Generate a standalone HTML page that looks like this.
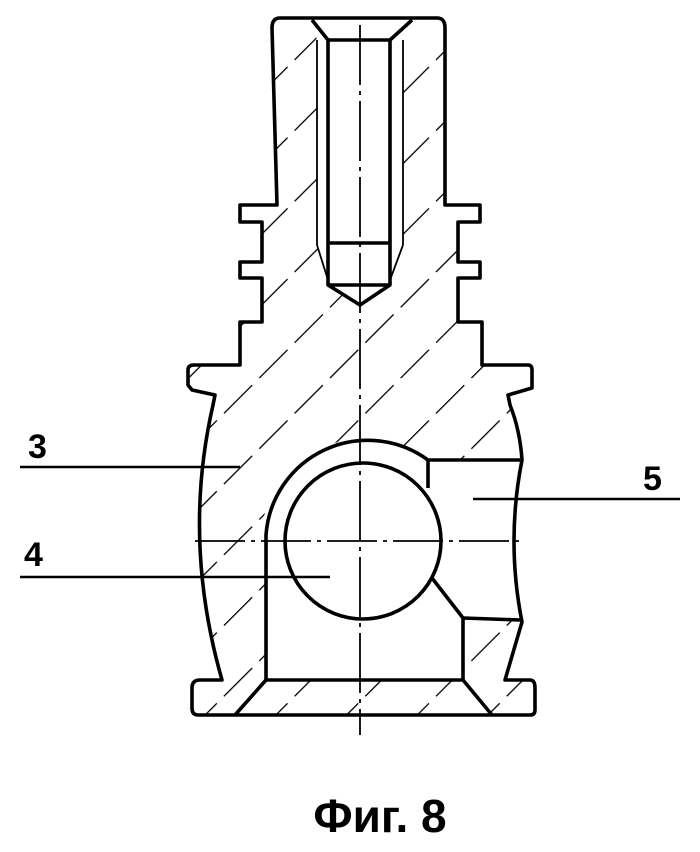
<!DOCTYPE html>
<html><head><meta charset="utf-8"><style>
html,body{margin:0;padding:0;background:#fff;}
svg{display:block;}
</style></head><body>
<svg width="700" height="852" viewBox="0 0 700 852" xmlns="http://www.w3.org/2000/svg">
<defs>
<pattern id="h" width="50" height="50" patternUnits="userSpaceOnUse" patternTransform="rotate(45)">
<line x1="0" y1="0" x2="0" y2="50" stroke="#000" stroke-width="2.6" stroke-dasharray="34 10"/>
</pattern>
<clipPath id="body"><path d="M280,18 L437,18 Q445,18 445,28 L445,205 L480,205 L480,222 L458,222 L458,262 L480,262 L480,278 L458,278 L458,322 L482,322 L482,365 L528,365 Q532,365 532,370 L532,388 L508,395 L510,405 Q520,430 522,460 Q506,541 522,622 L505,680 L530,680 Q535,680 535,688 L535,710 Q535,715 530,715 L198,715 Q192,715 192,708 L192,688 Q192,680 200,680 L222,680 Q182,540 213,405 L215,395 L192,390 L188,385 L188,370 Q188,365 194,365 L240,365 L240,322 L262,322 L262,278 L240,278 L240,262 L262,262 L262,222 L240,222 L240,205 L277,205 L272,28 Q272,18 280,18 Z"/></clipPath>
</defs>
<g clip-path="url(#body)"><rect x="0" y="0" width="700" height="852" fill="url(#h)"/></g>
<g fill="#fff" stroke="none">
<path d="M312,18 L412,18 L403,40 L403,245 L390,285 L360,305 L328,285 L317,245 L317,40 Z"/>
<circle cx="363" cy="541" r="102"/>
<path d="M266,541 L266,680 L463,680 L463,618 L520,620 Q506,541 520,460 L428,460 L428,541 Z"/>
</g>
<g fill="none" stroke="#000" stroke-width="3.6" stroke-linejoin="round">
<path d="M280,18 L437,18 Q445,18 445,28 L445,205 L480,205 L480,222 L458,222 L458,262 L480,262 L480,278 L458,278 L458,322 L482,322 L482,365 L528,365 Q532,365 532,370 L532,388 L508,395 L510,405 Q520,430 522,460 Q506,541 522,622 L505,680 L530,680 Q535,680 535,688 L535,710 Q535,715 530,715 L198,715 Q192,715 192,708 L192,688 Q192,680 200,680 L222,680 Q182,540 213,405 L215,395 L192,390 L188,385 L188,370 Q188,365 194,365 L240,365 L240,322 L262,322 L262,278 L240,278 L240,262 L262,262 L262,222 L240,222 L240,205 L277,205 L272,28 Q272,18 280,18 Z"/>
<path d="M312,20 L328,40 L328,285 L360,305 L390,285 L390,40 L412,20"/>
<line x1="328" y1="40" x2="390" y2="40"/>
<line x1="328" y1="285" x2="390" y2="285"/>
<line x1="328" y1="243" x2="390" y2="243"/>
<path d="M266,680 L266,535 A102,102 0 0 1 428,460 L520,460"/>
<circle cx="363" cy="541" r="78"/>
<path d="M266,680 L463,680 L463,618 L520,620"/>
<line x1="432" y1="578" x2="463" y2="618"/>
<line x1="428" y1="460" x2="428" y2="488"/>
<line x1="266" y1="680" x2="235" y2="715"/>
<line x1="463" y1="680" x2="492" y2="715"/>
</g>
<g fill="none" stroke="#000" stroke-width="1.8">
<line x1="317" y1="40" x2="317" y2="245"/>
<line x1="403" y1="40" x2="403" y2="245"/>
<line x1="317" y1="245" x2="328" y2="280"/>
<line x1="403" y1="245" x2="390" y2="280"/>
<line x1="360" y1="25" x2="360" y2="735" stroke-dasharray="60 6 4 6"/>
<line x1="195" y1="541" x2="520" y2="541" stroke-dasharray="50 6 4 6"/>
</g>
<g stroke="#000" stroke-width="2.6">
<line x1="20" y1="467" x2="240" y2="467"/>
<line x1="20" y1="577" x2="330" y2="577"/>
<line x1="473" y1="499" x2="680" y2="499"/>
</g>
<g font-family="Liberation Sans, sans-serif" font-size="34" font-weight="bold" fill="#000">
<text x="28" y="458">3</text>
<text x="24" y="566">4</text>
<text x="643" y="490">5</text>
</g>
<text x="380" y="832" text-anchor="middle" font-family="Liberation Sans, sans-serif" font-weight="bold" font-size="46" fill="#000">Фиг. 8</text>
</svg>
</body></html>
